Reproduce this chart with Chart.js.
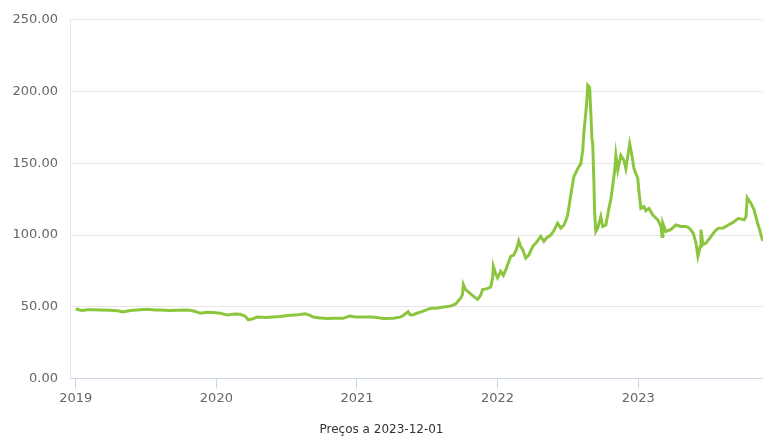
<!DOCTYPE html>
<html>
<head>
<meta charset="utf-8">
<script src="https://cdn.jsdelivr.net/npm/chart.js@4"></script>
<style>
html,body{margin:0;padding:0;background:#fff;}
#wrap{width:763px;height:438px;position:relative;}
</style>
</head>
<body>
<div id="wrap"><canvas id="c" width="763" height="438"></canvas></div>
<script>
const dates = [
"2019-01-01","2019-01-17","2019-02-01","2019-02-14","2019-03-04","2019-03-31","2019-04-20","2019-05-03","2019-05-22","2019-06-17",
"2019-07-05","2019-07-26","2019-08-08","2019-09-03","2019-09-21","2019-10-12","2019-10-25","2019-11-07","2019-11-20","2019-12-08",
"2019-12-24","2020-01-11","2020-01-29","2020-02-19","2020-03-03","2020-03-16","2020-03-24","2020-04-03","2020-04-16","2020-05-07",
"2020-05-28","2020-06-15","2020-07-11","2020-08-01","2020-08-19","2020-09-01","2020-09-09","2020-09-27","2020-10-15","2020-11-05",
"2020-11-26","2020-12-06","2020-12-14","2020-12-27","2021-01-09","2021-02-04","2021-02-23","2021-03-10","2021-04-05","2021-04-23",
"2021-04-29","2021-05-06","2021-05-14","2021-05-19","2021-05-25","2021-06-07","2021-06-22","2021-07-10","2021-07-29","2021-08-13",
"2021-09-01","2021-09-14","2021-09-19","2021-09-27","2021-10-02","2021-10-04","2021-10-10","2021-10-15","2021-10-23","2021-10-30",
"2021-11-10","2021-11-18","2021-11-23","2021-12-03","2021-12-14","2021-12-19","2021-12-21","2021-12-27","2022-01-01","2022-01-09",
"2022-01-16","2022-01-24","2022-02-04","2022-02-12","2022-02-19","2022-02-25","2022-03-02","2022-03-07","2022-03-15","2022-03-23",
"2022-04-02","2022-04-12","2022-04-23","2022-05-01","2022-05-08","2022-05-19","2022-05-27","2022-06-06","2022-06-14","2022-06-22",
"2022-06-27","2022-07-02","2022-07-10","2022-07-18","2022-07-28","2022-08-05","2022-08-10","2022-08-13","2022-08-18","2022-08-21",
"2022-08-23","2022-08-28","2022-08-31","2022-09-03","2022-09-05","2022-09-08","2022-09-10","2022-09-13","2022-09-18","2022-09-26",
"2022-10-01","2022-10-09","2022-10-17","2022-10-22","2022-10-27","2022-11-01","2022-11-04","2022-11-09","2022-11-17","2022-11-25",
"2022-11-30","2022-12-05","2022-12-10","2022-12-16","2022-12-21","2022-12-31","2023-01-03","2023-01-08","2023-01-16","2023-01-21",
"2023-01-29","2023-02-08","2023-02-21","2023-03-01","2023-03-04","2023-03-06","2023-03-14","2023-03-27","2023-04-09","2023-04-22",
"2023-05-05","2023-05-13","2023-05-24","2023-05-31","2023-06-05","2023-06-11","2023-06-13","2023-06-18","2023-06-26","2023-07-09",
"2023-07-20","2023-07-28","2023-08-10","2023-08-23","2023-09-05","2023-09-18","2023-10-03","2023-10-08","2023-10-11","2023-10-21",
"2023-10-29","2023-11-07","2023-11-13","2023-11-18","2023-11-21"
];
const prices = [
48.5,47.5,48.0,48.0,47.8,47.6,47.2,46.4,47.5,48.0,
48.3,47.8,47.8,47.5,47.6,47.8,47.6,46.8,45.5,46.2,
46.0,45.5,44.3,45.0,44.8,43.5,40.9,41.5,42.9,42.6,
42.9,43.2,44.1,44.5,45.2,44.0,42.9,42.3,41.8,42.0,
42.0,43.0,43.6,43.0,42.9,43.0,42.5,41.8,42.0,42.8,
43.6,45.0,46.6,44.5,44.3,45.7,47.0,48.9,49.2,49.9,
50.5,52.0,53.5,56.0,58.6,65.6,62.0,61.0,59.0,57.5,
55.2,58.0,62.1,62.5,63.7,70.0,78.3,73.0,70.2,74.8,
72.0,77.0,85.2,86.0,90.0,96.0,92.0,90.0,84.0,86.0,
92.0,95.0,99.0,95.6,98.0,100.0,103.0,108.2,104.8,107.0,
110.0,114.0,127.9,140.6,146.3,149.8,159.0,171.7,185.0,194.8,
204.5,203.0,185.0,167.0,163.6,137.0,115.0,102.5,104.8,112.9,
106.0,107.0,118.6,125.0,134.8,145.0,155.6,145.2,155.6,152.0,
146.3,155.0,163.6,155.0,146.3,139.4,130.0,118.6,119.8,117.0,
118.6,114.0,110.6,106.0,99.0,108.2,102.5,104.0,107.0,106.0,
106.0,105.0,101.3,94.4,85.2,92.0,103.7,93.3,94.4,99.0,
103.0,104.8,105.0,107.0,109.0,111.7,110.6,113.0,126.0,122.0,
117.5,108.2,103.0,98.0,96.0
];
const yearTicks = [2019, 2020, 2021, 2022, 2023];
const yTicks = [0, 50, 100, 150, 200, 250];
const axisStart = "2018-12-17";
const axisEnd = "2023-11-21";
const titleText = "Preços a 2023-12-01";

function toYear(s){
  const p = s.split("-").map(Number);
  const start = Date.UTC(p[0],0,1), next = Date.UTC(p[0]+1,0,1);
  return p[0] + (Date.UTC(p[0],p[1]-1,p[2]) - start)/(next-start);
}
const points = dates.map((d,i)=>({x: toYear(d), y: prices[i]}));
const FONT = "'DejaVu Sans', 'Open Sans', sans-serif";

new Chart(document.getElementById('c'), {
  type: 'line',
  data: { datasets: [{
    data: points,
    borderColor: '#8cc63f',
    borderWidth: 3,
    pointRadius: 0,
    tension: 0,
    fill: false
  }]},
  options: {
    responsive: false,
    animation: false,
    events: [],
    layout: { padding: { top: 17, right: 0, left: 0, bottom: 0 } },
    plugins: {
      legend: { display: false },
      tooltip: { enabled: false },
      title: {
        display: true, position: 'bottom', text: titleText,
        color: '#333', font: { family: FONT, size: 12, weight: 'normal' },
        padding: { top: 0, bottom: 1 }
      }
    },
    scales: {
      x: {
        type: 'linear',
        min: toYear(axisStart), max: toYear(axisEnd),
        afterBuildTicks: s => { s.ticks = yearTicks.map(v => ({ value: v })); },
        afterFit: s => { s.height = 44; },
        grid: { drawOnChartArea: false, drawTicks: true, tickLength: 10, tickColor: '#ccd6eb', tickWidth: 1 },
        border: { display: true, color: '#ccd6eb', width: 1 },
        ticks: { color: '#666', font: { family: FONT, size: 13 }, padding: 2, maxRotation: 0,
                 callback: v => String(v) }
      },
      y: {
        min: 0, max: 250,
        afterBuildTicks: s => { s.ticks = yTicks.map(v => ({ value: v })); },
        afterFit: s => { s.width = 70; },
        grid: { color: ctx => ctx.tick && ctx.tick.value === 0 ? '#ccd6eb' : '#e6e6e6', drawTicks: false, lineWidth: 1 },
        border: { display: true, color: '#e6e6e6', width: 1 },
        ticks: { color: '#666', font: { family: FONT, size: 13 }, padding: 12,
                 callback: v => Number(v).toFixed(2) }
      }
    }
  }
});
</script>
</body>
</html>
